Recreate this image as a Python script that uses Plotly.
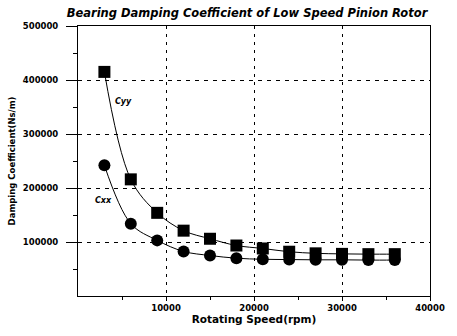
import plotly.graph_objects as go

speed = [3000, 6000, 9000, 12000, 15000, 18000, 21000, 24000, 27000, 30000, 33000, 36000]
cyy = [415000, 216000, 154000, 121000, 106000, 93500, 88000, 82000, 79000, 78000, 77500, 77500]
cxx = [242000, 134000, 103000, 82500, 75000, 70000, 68000, 67500, 67000, 67000, 66500, 66500]

x_ticks = [10000, 20000, 30000, 40000]
y_ticks = [100000, 200000, 300000, 400000, 500000]

FONT = "DejaVu Sans"

fig = go.Figure()
fig.add_trace(go.Scatter(
    x=speed, y=cyy, mode="lines+markers", name="Cyy",
    line=dict(color="black", width=1, shape="spline"),
    marker=dict(symbol="square", size=12, color="black"),
))
fig.add_trace(go.Scatter(
    x=speed, y=cxx, mode="lines+markers", name="Cxx",
    line=dict(color="black", width=1, shape="spline"),
    marker=dict(symbol="circle", size=12, color="black"),
))

fig.add_annotation(x=5200, y=360000, text="<b><i>Cyy</i></b>", showarrow=False,
                   font=dict(family=FONT, size=8, color="black"))
fig.add_annotation(x=2900, y=176000, text="<b><i>Cxx</i></b>", showarrow=False,
                   font=dict(family=FONT, size=8, color="black"))

fig.update_layout(
    width=457, height=336,
    margin=dict(l=76, r=19, t=26, b=37),
    paper_bgcolor="white", plot_bgcolor="white",
    showlegend=False,
    title=dict(text="<b><i>Bearing Damping Coefficient of Low Speed Pinion Rotor</i></b>",
               x=247 / 457, xanchor="center", xref="container",
               y=1 - 13 / 336, yanchor="middle", yref="container",
               font=dict(family=FONT, size=11.5, color="black")),
    font=dict(family=FONT, color="black"),
)
fig.update_xaxes(
    range=[0, 40000], tickvals=x_ticks, ticktext=[f"<b>{v}</b>" for v in x_ticks],
    tickfont=dict(family=FONT, size=8.5, color="black"),
    showline=True, linecolor="black", linewidth=1, mirror=True,
    showgrid=True, gridcolor="black", gridwidth=1, griddash="3px,5px",
    ticks="outside", ticklen=4, tickcolor="black",
    minor=dict(tickvals=[5000, 15000, 25000, 35000], ticks="outside", ticklen=3, tickcolor="black", showgrid=False),
    zeroline=False,
    title=dict(text="<b>Rotating Speed(rpm)</b>", font=dict(family=FONT, size=10.5, color="black"), standoff=3),
)
fig.update_yaxes(
    range=[0, 500000], tickvals=y_ticks, ticktext=[f"<b>{v}</b>" for v in y_ticks],
    tickfont=dict(family=FONT, size=8.5, color="black"),
    showline=True, linecolor="black", linewidth=1, mirror=True,
    showgrid=True, gridcolor="black", gridwidth=1, griddash="4px,5px",
    ticks="outside", ticklen=11, tickcolor="black", ticklabelstandoff=6,
    minor=dict(tickvals=[50000, 150000, 250000, 350000, 450000], ticks="outside", ticklen=4, tickcolor="black", showgrid=False),
    zeroline=False,
    title=dict(text="<b>Damping Coefficient(Ns/m)</b>", font=dict(family=FONT, size=8.5, color="black"), standoff=5),
)

fig.write_html("out.html", post_script="document.body.style.margin='0px';",
               config={"displayModeBar": False})
